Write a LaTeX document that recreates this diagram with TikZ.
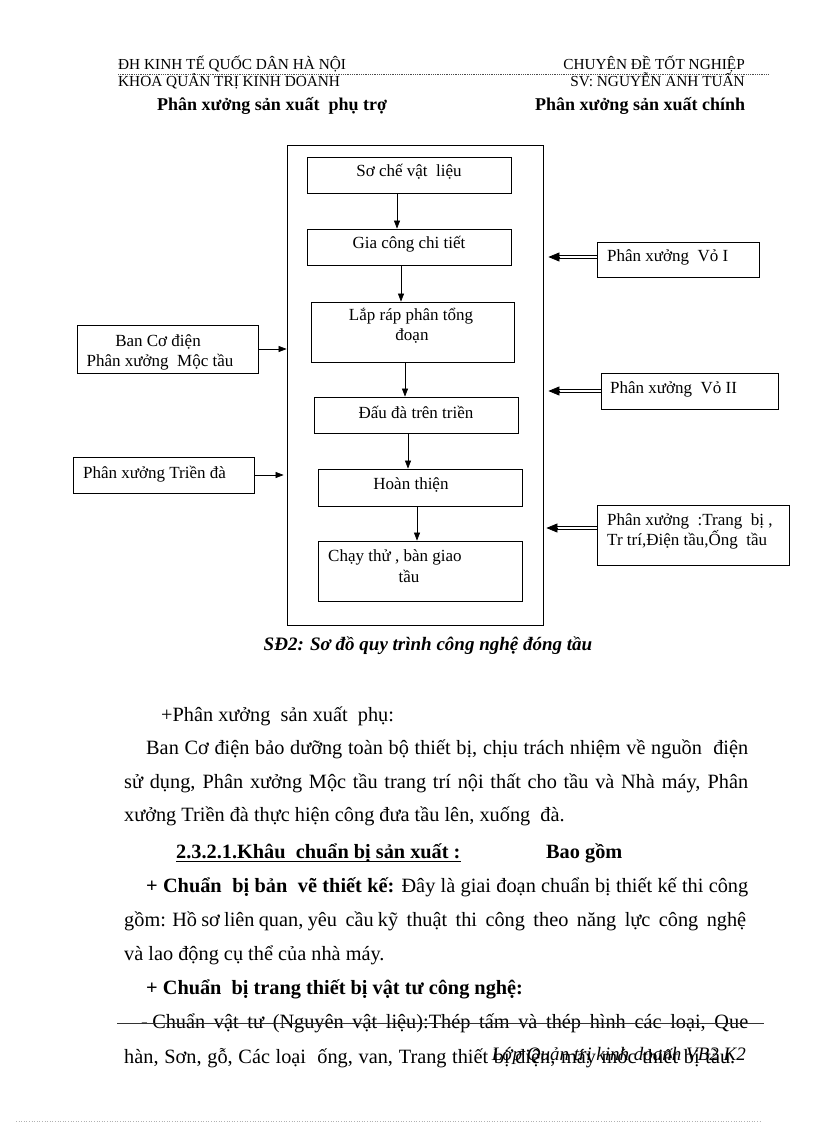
\documentclass[tikz,border=0pt]{standalone}
\usepackage{fontspec}
\setmainfont{Liberation Serif}
\usetikzlibrary{arrows.meta}
\newcommand\szhead{\fontsize{15.3}{17}\selectfont}
\newcommand\szsub{\fontsize{18}{21}\selectfont}
\newcommand\szbx{\fontsize{17}{20}\selectfont}
\newcommand\szcap{\fontsize{19}{22}\selectfont}
\newcommand\szbody{\fontsize{20.3}{24}\selectfont}
\newcommand\szfoot{\fontsize{19}{22}\selectfont}
\begin{document}
\begin{tikzpicture}[x=1pt,y=-1pt,
  txt/.style={inner sep=0pt, anchor=base west},
  ctxt/.style={inner sep=0pt, anchor=base},
  rtxt/.style={inner sep=0pt, anchor=base east},
  box/.style={draw, line width=0.8pt, inner sep=0pt},
  flow/.style={-{Triangle[length=8pt,width=6pt]}, line width=0.7pt},
  dblline/.style={double, double distance=2.2pt, line width=0.8pt},
  dblhead/.style={-{Triangle[length=11pt,width=9pt]}, line width=0.7pt}
]
\useasboundingbox[fill=white] (0,0) rectangle (816,1123);

% header
\node[txt] (h1) at (118,70) {\szhead ĐH KINH TẾ QUỐC DÂN HÀ NỘI};
\node[rtxt] (h2) at (745,70) {\szhead CHUYÊN ĐỀ TỐT NGHIỆP};
\coordinate (rl) at (118,74);
\coordinate (rr) at (768,74);
\draw[black!70, line width=0.8pt, densely dotted] (rl) -- (rr);
\node[txt] (h3) at (118,87) {\szhead KHOA QUẢN TRỊ KINH DOANH};
\node[rtxt] (h4) at (745,87) {\szhead SV: NGUYỄN ANH TUẤN};
\node[txt] (s1) at (157,111) {\szsub\bfseries Phân xưởng sản xuất\ \ phụ trợ};
\node[txt] (s2) at (535,111) {\szsub\bfseries Phân xưởng sản xuất chính};

% main box
\node[box, minimum width=256pt, minimum height=480pt] (main) at (415,385) {};
\node[box, minimum width=204pt, minimum height=36pt] (b1) at (409,175) {};
\node[box, minimum width=204pt, minimum height=36pt] (b2) at (409,247) {};
\node[box, minimum width=203pt, minimum height=60pt] (b3) at (412.5,332) {};
\node[box, minimum width=204pt, minimum height=36pt] (b4) at (416,415) {};
\node[box, minimum width=204pt, minimum height=37pt] (b5) at (420,487.5) {};
\node[box, minimum width=204pt, minimum height=60pt] (b6) at (420,571) {};

\node[ctxt] (t1) at (409,177) {\szbx Sơ chế vật\ \ liệu};
\node[ctxt] (t2) at (409,248) {\szbx Gia công chi tiết};
\node[ctxt] (t3a) at (411,320) {\szbx Lắp ráp phân tổng};
\node[ctxt] (t3b) at (412,340) {\szbx đoạn};
\node[ctxt] (t4) at (416,418) {\szbx Đấu đà trên triền};
\node[ctxt] (t5) at (411,489) {\szbx Hoàn thiện};
\node[txt] (t6a) at (328,561) {\szbx Chạy thử , bàn giao};
\node[ctxt] (t6b) at (409,582) {\szbx tầu};

\draw[flow] ([xshift=-12pt]b1.south) -- ([xshift=-12pt]b1.south |- b2.north);
\draw[flow] ([xshift=-8pt]b2.south) -- ([xshift=-8pt]b2.south |- b3.north);
\draw[flow] ([xshift=-7.5pt]b3.south) -- ([xshift=-7.5pt]b3.south |- b4.north);
\draw[flow] ([xshift=-8pt]b4.south) -- ([xshift=-8pt]b4.south |- b5.north);
\draw[flow] ([xshift=-3pt]b5.south) -- ([xshift=-3pt]b5.south |- b6.north);

% left boxes
\node[box, minimum width=181pt, minimum height=48pt] (ban) at (167.5,349) {};
\node[ctxt] (ban1) at (158,346) {\szbx Ban Cơ điện};
\node[ctxt] (ban2) at (160,366) {\szbx Phân xưởng\ \ Mộc tầu};
\node[box, minimum width=181pt, minimum height=36pt] (tri) at (163.5,475) {};
\node[txt] (tri1) at (83,478) {\szbx Phân xưởng Triền đà};
\draw[flow] (ban.east) -- (ban.east -| main.west);
\draw[flow] (tri.east) -- ([xshift=-3pt]tri.east -| main.west);

% right boxes
\node[box, minimum width=162pt, minimum height=35pt] (vo1) at (678,259.5) {};
\node[txt] (vo1t) at (607,261) {\szbx Phân xưởng\ \ Vỏ I};
\node[box, minimum width=177pt, minimum height=36pt] (vo2) at (689.5,391) {};
\node[txt] (vo2t) at (610,393) {\szbx Phân xưởng\ \ Vỏ II};
\node[box, minimum width=192pt, minimum height=60pt] (tb) at (693,535) {};
\node[txt] (tb1) at (607,525) {\szbx Phân xưởng\ \ :Trang\ \ bị ,};
\node[txt] (tb2) at (607,545) {\szbx Tr trí,Điện tầu,Ống\ \ tầu};

% double arrows (double shaft + filled head)
\draw[dblline] ([yshift=2.5pt]vo1.west) -- ([yshift=2.5pt, xshift=14pt]vo1.west -| main.east);
\draw[dblhead] ([yshift=2.5pt, xshift=17pt]vo1.west -| main.east) -- ([yshift=2.5pt, xshift=5pt]vo1.west -| main.east);
\draw[dblline] (vo2.west) -- ([xshift=14pt]vo2.west -| main.east);
\draw[dblhead] ([xshift=17pt]vo2.west -| main.east) -- ([xshift=5pt]vo2.west -| main.east);
\draw[dblline] ([yshift=7pt]tb.west) -- ([yshift=7pt, xshift=12pt]tb.west -| main.east);
\draw[dblhead] ([yshift=7pt, xshift=15pt]tb.west -| main.east) -- ([yshift=7pt, xshift=3pt]tb.west -| main.east);

% caption
\node[ctxt] (cap) at (428,650) {\szcap\bfseries\itshape SĐ2: Sơ đồ quy trình công nghệ đóng tầu};

% body text
\node[txt] (p1) at (161,721) {\szbody +Phân xưởng\ \ sản xuất\ \ phụ:};
\node[txt] (p2) at (146,754) {\szbody\makebox[602pt][s]{Ban Cơ điện bảo dưỡng toàn bộ thiết bị, chịu trách nhiệm về nguồn\ \ điện}};
\node[txt] (p3) at (124,788) {\szbody\makebox[624pt][s]{sử dụng, Phân xưởng Mộc tầu trang trí nội thất cho tầu và Nhà máy, Phân}};
\node[txt] (p4) at (124,821) {\szbody xưởng Triền đà thực hiện công đưa tầu lên, xuống\ \ đà.};
\node[txt] (p5) at (176,858) {\szbody\bfseries 2.3.2.1.Khâu\ \ chuẩn bị sản xuất :};
\draw[line width=0.8pt] ([yshift=-3.5pt]p5.base west) -- ([yshift=-3.5pt]p5.base east);
\node[txt] (p5b) at (546,858) {\szbody\bfseries Bao gồm};
\node[txt] (p6) at (146,892) {\szbody\makebox[602pt][s]{\textbf{+ Chuẩn\ \ bị bản\ \ vẽ thiết kế:} Đây là giai đoạn chuẩn bị thiết kế thi công}};
\node[txt] (p7) at (124,926) {\szbody\makebox[622pt][s]{gồm: Hồ sơ liên quan, yêu\ \ cầu kỹ\ \ thuật\ \ thi\ \ công\ \ theo\ \ năng\ \ lực\ \ công\ \ nghệ}};
\node[txt] (p8) at (124,960) {\szbody và lao động cụ thể của nhà máy.};
\node[txt] (p9) at (146,994) {\szbody\bfseries + Chuẩn\ \ bị trang thiết bị vật tư công nghệ:};
\node[txt] (p10) at (141,1028) {\szbody\makebox[607pt][s]{- Chuẩn\ \ vật\ \ tư\ \ (Nguyên\ \ vật\ \ liệu):Thép\ \ tấm\ \ và\ \ thép\ \ hình\ \ các\ \ loại,\ \ Que}};
\coordinate (sl) at (117,1023);
\coordinate (sr) at (764,1023);
\draw[black!80, line width=0.9pt] (sl) -- (sr);
\node[txt] (p11) at (124,1063) {\szbody\makebox[611pt][s]{hàn, Sơn, gỗ, Các loại\ \ ống, van, Trang thiết bị điện, máy móc thiết bị tàu.}};
\node[rtxt] (foot) at (746,1060) {\szfoot\itshape Lớp Quản trị kinh doanh VB2 K2};

% bottom dotted rule
\coordinate (bl) at (16,1121);
\coordinate (br) at (760,1121);
\draw[black!30, line width=0.6pt, dotted] (bl) -- (br);
\end{tikzpicture}
\end{document}
